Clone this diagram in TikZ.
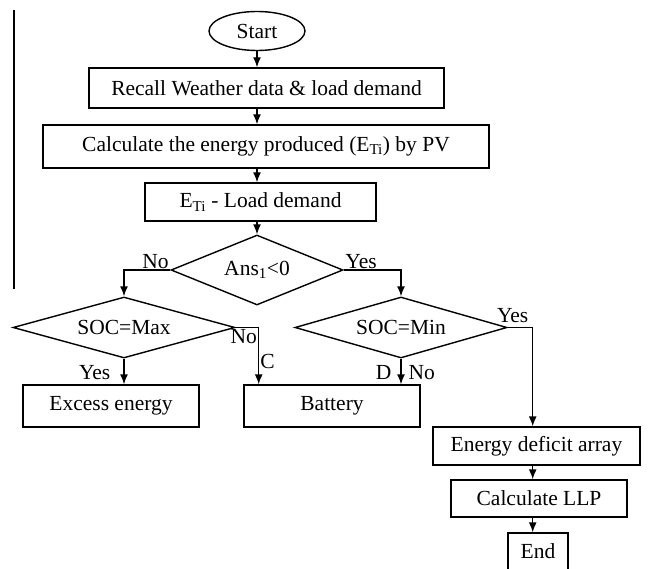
\documentclass[tikz,border=0pt]{standalone}
\usepackage{fontspec}
\setmainfont{Liberation Serif}
\usetikzlibrary{arrows.meta, shapes.geometric, positioning, calc}

\begin{document}
\begin{tikzpicture}[x=1pt, y=1pt, line width=1.4pt,
		>={Latex[length=10pt,width=8pt]},
		font=\fontsize{21.5}{24}\selectfont,
		box/.style={draw, rectangle, inner sep=0pt},
		decision/.style={draw, diamond, inner sep=0pt},
		lbl/.style={inner sep=1pt}]
					\useasboundingbox (0,0) rectangle (658,-569);

					\draw[line width=1.1pt] (14,-10) -- (14,-289);

					\node[draw, ellipse, inner sep=0pt, minimum width=96pt, minimum height=39pt] (start) at (257,-31) {Start};
					\node[box, minimum width=355pt, minimum height=40pt] (recall) at (266.5,-88) {Recall Weather data \& load demand};
					\node[box, minimum width=446pt, minimum height=43pt] (calc) at (266,-146.5) {Calculate the energy produced (E\textsubscript{Ti}) by PV};
					\node[box, minimum width=231pt, minimum height=38pt] (eti) at (260.5,-202) {E\textsubscript{Ti} - Load demand};

					\node[decision, shape aspect=2.46, minimum width=172pt, minimum height=70pt] (ans) at (257,-270) {Ans\textsubscript{1}<0};
					\node[decision, shape aspect=3.6, minimum width=222pt, minimum height=61pt] (socmax) at (124,-327.5) {SOC=Max};
					\node[decision, shape aspect=3.5, minimum width=212pt, minimum height=61pt] (socmin) at (401,-327.5) {SOC=Min};

					\node[box, minimum width=176pt, minimum height=42pt] (excess) at (111,-406) {Excess energy};
					\node[box, minimum width=176pt, minimum height=42pt] (battery) at (332,-406) {Battery};
					\node[box, minimum width=207pt, minimum height=38pt] (deficit) at (536.5,-446) {Energy deficit array};
					\node[box, minimum width=176pt, minimum height=37pt] (llp) at (539,-498.5) {Calculate LLP};
					\node[box, minimum width=60pt, minimum height=37pt] (endbox) at (538,-551.5) {End};

					\draw[->] (start) -- (start |- recall.north);
					\draw[->] (start |- recall.south) -- (start |- calc.north);
					\draw[->] (start |- calc.south) -- (start |- eti.north);
					\draw[->] (start |- eti.south) -- (ans.north);

					\draw[->] (ans.west) node[lbl, above left] {No} -| (socmax.north);
					\draw[->] (ans.east) node[lbl, above right] {Yes} -| (socmin.north);

					\draw[->] (socmax.east) -- ++(23,0) coordinate (cbat) node[lbl, below left] {No} -- node[lbl, pos=0.6, right] {C} (cbat |- battery.north);
					\draw[->] (socmax.south) -- node[lbl, pos=0.55, left=12pt] {Yes} (socmax.south |- excess.north);

					\draw[->] (socmin.south) -- node[lbl, pos=0.55, left=8pt] {D} node[lbl, pos=0.55, right=6pt] {No} (socmin.south |- battery.north);
					\draw[->] (socmin.east) -- node[lbl, pos=0.2, above, yshift=3pt] {Yes} ++(25,0) coordinate (cdef) -- (cdef |- deficit.north);

					\draw[->] (cdef |- deficit.south) -- (cdef |- llp.north);
					\draw[->] (cdef |- llp.south) -- (cdef |- endbox.north);
				\end{tikzpicture}
\end{document}
